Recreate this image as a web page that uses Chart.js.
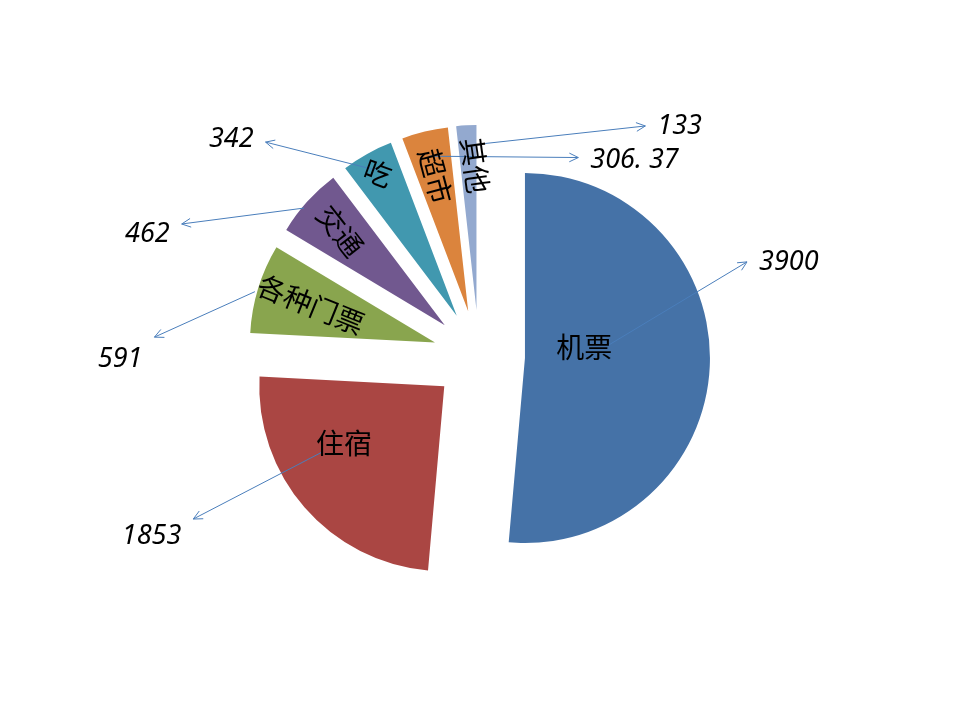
<!DOCTYPE html>
<html>
<head>
<meta charset="utf-8">
<script src="https://cdn.jsdelivr.net/npm/chart.js@4.4.1/dist/chart.umd.min.js"></script>
<style>
  html, body { margin: 0; background: #fff; }
  #wrap { width: 960px; height: 720px; }
</style>
</head>
<body>
<div id="wrap"><canvas id="pie" width="960" height="720"></canvas></div>
<script>
// 数据
const categories = ['机票', '住宿', '各种门票', '交通', '吃', '超市', '其他'];
const amounts = [3900, 1853, 591, 462, 342, 306.37, 133];
const valueTexts = ['3900', '1853', '591', '462', '342', '306. 37', '133'];
const sliceColors = ['#4572A7', '#AA4643', '#89A54E', '#71588F', '#4198AF', '#DB843D', '#93A9CF'];

// 标签布局（相对饼图中心，角度按顺时针从正上方算，距离为半径的倍数）
const nameAngleShift = [-7, 8, 0, 0, 0, 0, 2];
const nameDist = [0.57, 0.87, 0.95, 1.01, 1.13, 1.0, 1.03];
const nameRotation = [0, 0, 22, 52, 20, 75, 82];
const valueAngle = [73.1, 241.2, 269.5, 290.2, 311.2, 38.5, 41.1];
const valueDist = [1.75, 2.02, 1.94, 1.91, 1.78, 1.35, 1.65];
// 箭头起点相对名称中心的偏移
const arrowStartDx = [25, -23, -56, -36, -2, -7, 10];
const arrowStartDy = [-3, 9, -13, -23, -3, -20, -22];
const arrowEndDy = [0, -17, -22, -10, 3, -3, 0];

const EXPLODE = 46;
const PIE_RADIUS = 185;

function polar(cx, cy, clockDeg, r) {
    const a = clockDeg * Math.PI / 180;
    return { x: cx + r * Math.sin(a), y: cy - r * Math.cos(a) };
}

// 分离扇区：每块沿中线方向平移
const explodePlugin = {
    id: 'explode',
    beforeDatasetDraw(chart, args) {
        const ctx = chart.ctx;
        args.meta.data.forEach(arc => {
            const mid = (arc.startAngle + arc.endAngle) / 2;
            ctx.save();
            ctx.translate(Math.cos(mid) * EXPLODE, Math.sin(mid) * EXPLODE);
            arc.draw(ctx);
            ctx.restore();
        });
        return false;
    }
};

function drawArrow(ctx, x1, y1, x2, y2) {
    ctx.beginPath();
    ctx.moveTo(x1, y1);
    ctx.lineTo(x2, y2);
    ctx.stroke();
    const ang = Math.atan2(y2 - y1, x2 - x1);
    const len = 10, spread = 0.45;
    ctx.beginPath();
    ctx.moveTo(x2 - len * Math.cos(ang - spread), y2 - len * Math.sin(ang - spread));
    ctx.lineTo(x2, y2);
    ctx.lineTo(x2 - len * Math.cos(ang + spread), y2 - len * Math.sin(ang + spread));
    ctx.stroke();
}

// 类别名称 + 数值标签 + 引导箭头
const labelPlugin = {
    id: 'labels',
    afterDatasetsDraw(chart) {
        const ctx = chart.ctx;
        const meta = chart.getDatasetMeta(0);
        meta.data.forEach((arc, i) => {
            const cx = arc.x, cy = arc.y;
            const midClock = ((arc.startAngle + arc.endAngle) / 2 + Math.PI / 2) * 180 / Math.PI;
            const namePos = polar(cx, cy, midClock + nameAngleShift[i], nameDist[i] * arc.outerRadius);
            const valPos = polar(cx, cy, valueAngle[i], valueDist[i] * arc.outerRadius);

            ctx.save();
            ctx.font = 'italic 27px "Noto Sans", sans-serif';
            const w = ctx.measureText(valueTexts[i]).width;
            ctx.restore();

            // 箭头
            const sx = namePos.x + arrowStartDx[i];
            const sy = namePos.y + arrowStartDy[i];
            const ex = valPos.x > sx ? valPos.x - w / 2 - 12 : valPos.x + w / 2 + 12;
            const ey = valPos.y + arrowEndDy[i];
            ctx.save();
            ctx.strokeStyle = '#4A7EBB';
            ctx.lineWidth = 1;
            drawArrow(ctx, sx, sy, ex, ey);
            ctx.restore();

            // 名称
            ctx.save();
            ctx.translate(namePos.x, namePos.y);
            ctx.rotate(nameRotation[i] * Math.PI / 180);
            ctx.font = '28px "Noto Sans CJK SC", sans-serif';
            ctx.fillStyle = '#000';
            ctx.textAlign = 'center';
            ctx.textBaseline = 'middle';
            ctx.fillText(categories[i], 0, 0);
            ctx.restore();

            // 数值
            ctx.save();
            ctx.font = 'italic 27px "Noto Sans", sans-serif';
            ctx.fillStyle = '#000';
            ctx.textAlign = 'center';
            ctx.textBaseline = 'middle';
            ctx.fillText(valueTexts[i], valPos.x, valPos.y);
            ctx.restore();
        });
    }
};

new Chart(document.getElementById('pie').getContext('2d'), {
    type: 'pie',
    data: {
        labels: categories,
        datasets: [{
            data: amounts,
            backgroundColor: sliceColors,
            borderWidth: 0
        }]
    },
    options: {
        responsive: false,
        animation: false,
        radius: PIE_RADIUS,
        layout: { padding: { top: 0, bottom: 8, left: 0, right: 2 } },
        plugins: {
            legend: { display: false },
            tooltip: { enabled: false }
        }
    },
    plugins: [explodePlugin, labelPlugin]
});
</script>
</body>
</html>
